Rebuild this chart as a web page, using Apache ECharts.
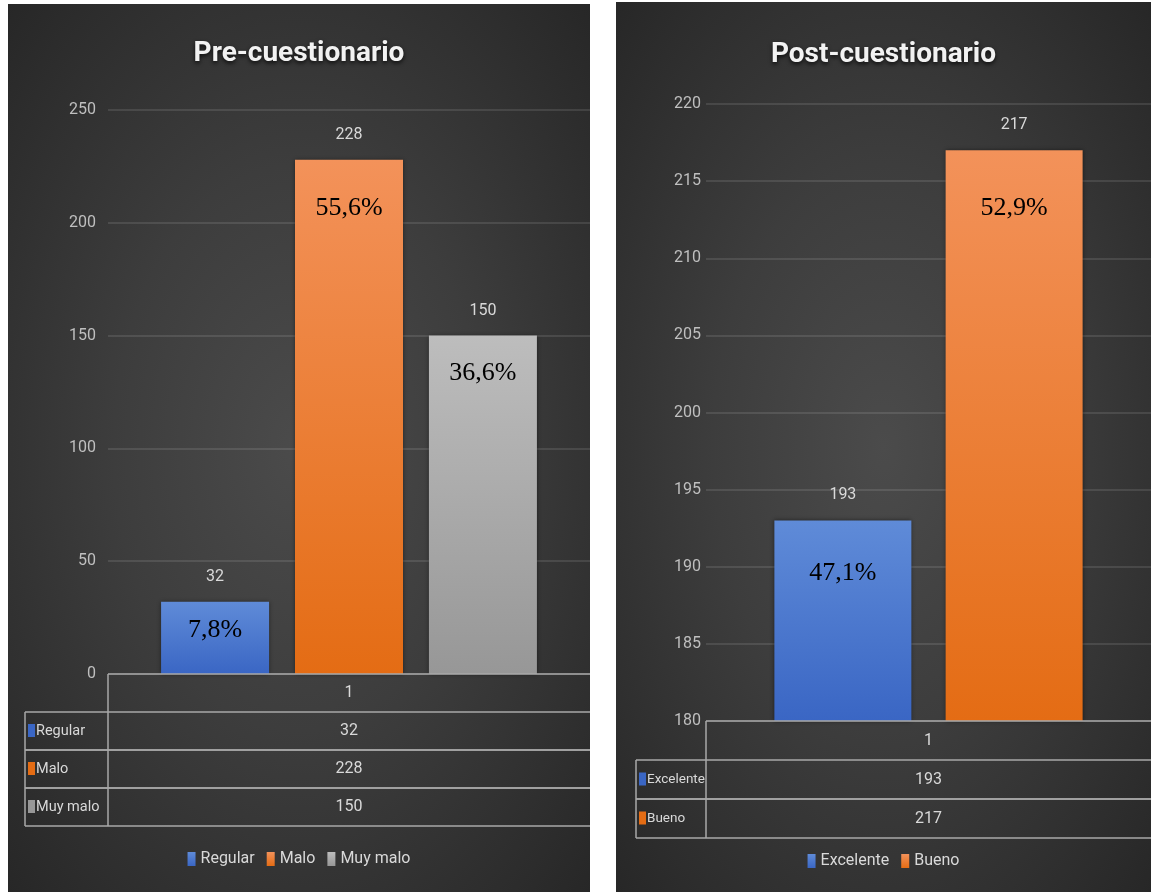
<!DOCTYPE html>
<html>
<head>
<meta charset="utf-8">
<title>Pre-cuestionario / Post-cuestionario</title>
<script src="https://cdn.jsdelivr.net/npm/echarts@6/dist/echarts.min.js"></script>
<style>
  html, body { margin: 0; padding: 0; background: #fff; }
  .panel {
    position: absolute;
    background: radial-gradient(ellipse at 50% 50%, #4b4b4b 0%, #3d3d3d 45%, #272727 100%);
  }
  #preChart { left: 8px; top: 4px; width: 582px; height: 888px; }
  #postChart { left: 616px; top: 2px; width: 535px; height: 890px; }
</style>
</head>
<body>
<div id="preChart" class="panel"></div>
<div id="postChart" class="panel"></div>
<script>
// datos
const categories = ["1"];

const preNames = ["Regular", "Malo", "Muy malo"];
const preValues = [32, 228, 150];
const prePercents = ["7,8%", "55,6%", "36,6%"];
const preTicks = [0, 50, 100, 150, 200, 250];

const postNames = ["Excelente", "Bueno"];
const postValues = [193, 217];
const postPercents = ["47,1%", "52,9%"];
const postTicks = [180, 185, 190, 195, 200, 205, 210, 215, 220];

// colores (arriba -> abajo del degradado)
const barColors = [
  ["#5f8bd8", "#3a66c4"],
  ["#f3925a", "#e46c14"],
  ["#bdbdbd", "#979797"],
];

const FONT = 'Roboto, "Noto Sans", sans-serif';
const TEXT_COLOR = "#d9d9d9";
const LINE_COLOR = "#a8a8a8";

// tabla de datos dibujada con graphic
function buildTable(cfg, names, values) {
  const els = [];
  const right = cfg.width;
  const y0 = cfg.gridTop + cfg.gridHeight;
  const y1 = y0 + cfg.headerH;
  const yEnd = y1 + names.length * cfg.rowH;
  const cx = (cfg.gridLeft + right) / 2;
  const line = (x1, ya, x2, yb) => ({
    type: "line",
    shape: { x1: x1, y1: ya, x2: x2, y2: yb },
    style: { stroke: LINE_COLOR, lineWidth: 1.5 },
    z: 10,
  });

  els.push(line(cfg.gridLeft, y0, right, y0));
  els.push(line(cfg.gridLeft, y0, cfg.gridLeft, yEnd));
  els.push(line(cfg.colX, y1, cfg.colX, yEnd));
  els.push({
    type: "text",
    style: { text: categories[0], x: cx, y: (y0 + y1) / 2, fill: TEXT_COLOR, font: "16px " + FONT, textAlign: "center", textVerticalAlign: "middle" },
    z: 10,
  });

  names.forEach((name, i) => {
    const top = y1 + i * cfg.rowH;
    const mid = top + cfg.rowH / 2;
    els.push(line(cfg.colX, top, right, top));
    els.push(line(cfg.colX, top + cfg.rowH, right, top + cfg.rowH));
    els.push({
      type: "rect",
      shape: { x: cfg.colX + 3, y: mid - 7, width: 7, height: 13 },
      style: { fill: barColors[i][1] },
      z: 10,
    });
    els.push({
      type: "text",
      style: { text: name, x: cfg.colX + 11, y: mid, fill: TEXT_COLOR, font: cfg.rowFont + "px " + FONT, textAlign: "left", textVerticalAlign: "middle" },
      z: 10,
    });
    els.push({
      type: "text",
      style: { text: String(values[i]), x: cx, y: mid, fill: TEXT_COLOR, font: "16px " + FONT, textAlign: "center", textVerticalAlign: "middle" },
      z: 10,
    });
  });
  return els;
}

function makeChart(domId, cfg, names, values, percents, ticks) {
  const chart = echarts.init(document.getElementById(domId));

  const series = names.map((name, i) => ({
    name: name,
    type: "bar",
    data: [values[i]],
    barWidth: cfg.barWidth,
    barGap: cfg.barGap,
    itemStyle: {
      color: new echarts.graphic.LinearGradient(0, 0, 0, 1, [
        { offset: 0, color: barColors[i][0] },
        { offset: 1, color: barColors[i][1] },
      ]),
      shadowColor: "rgba(0,0,0,0.45)",
      shadowBlur: 4,
    },
    label: {
      show: true,
      position: "insideTop",
      distance: 0,
      offset: [0, -35],
      formatter: "{v|" + values[i] + "}\n{p|" + percents[i] + "}",
      rich: {
        v: { color: TEXT_COLOR, fontSize: 16, fontFamily: FONT, lineHeight: 20 },
        p: { color: "#000", fontSize: 26, fontFamily: '"Liberation Serif", serif', lineHeight: cfg.pctLine[i] },
      },
    },
  }));

  const option = {
    animation: false,
    title: {
      text: cfg.title,
      left: "center",
      top: cfg.titleTop,
      textStyle: {
        color: "#f2f2f2",
        fontSize: 28,
        fontWeight: "bold",
        fontFamily: FONT,
        textShadowColor: "rgba(0,0,0,0.8)",
        textShadowBlur: 4,
        textShadowOffsetY: 2,
      },
    },
    legend: {
      top: cfg.legendTop,
      left: "center",
      icon: "rect",
      itemWidth: 8,
      itemHeight: 14,
      itemGap: 12,
      textStyle: { color: TEXT_COLOR, fontSize: 16, fontFamily: FONT },
      data: names,
    },
    grid: { left: cfg.gridLeft, right: 0, top: cfg.gridTop, height: cfg.gridHeight },
    xAxis: {
      type: "category",
      data: categories,
      axisLine: { show: false },
      axisTick: { show: false },
      axisLabel: { show: false },
    },
    yAxis: {
      type: "value",
      min: ticks[0],
      max: ticks[ticks.length - 1],
      interval: ticks[1] - ticks[0],
      axisLine: { show: false },
      axisTick: { show: false },
      axisLabel: { color: "#bfbfbf", fontSize: 16, fontFamily: FONT, margin: cfg.labelMargin },
      splitLine: { lineStyle: { color: "rgba(255,255,255,0.14)", width: 1.5 } },
    },
    graphic: buildTable(cfg, names, values),
    series: series,
  };

  chart.setOption(option);
  return chart;
}

const preChart = makeChart(
  "preChart",
  {
    title: "Pre-cuestionario", titleTop: 31, width: 582,
    gridLeft: 100, gridTop: 106, gridHeight: 564, labelMargin: 12,
    barWidth: 108, barGap: "24%", pctLine: [86, 128, 106],
    colX: 17, headerH: 38, rowH: 38, rowFont: 14.5, legendTop: 842,
  },
  preNames, preValues, prePercents, preTicks
);

const postChart = makeChart(
  "postChart",
  {
    title: "Post-cuestionario", titleTop: 34, width: 535,
    gridLeft: 90, gridTop: 102, gridHeight: 617, labelMargin: 5,
    barWidth: 137, barGap: "25%", pctLine: [136, 146],
    colX: 20, headerH: 39, rowH: 39, rowFont: 13.5, legendTop: 846,
  },
  postNames, postValues, postPercents, postTicks
);

window.addEventListener("resize", () => {
  preChart.resize();
  postChart.resize();
});
</script>
</body>
</html>
